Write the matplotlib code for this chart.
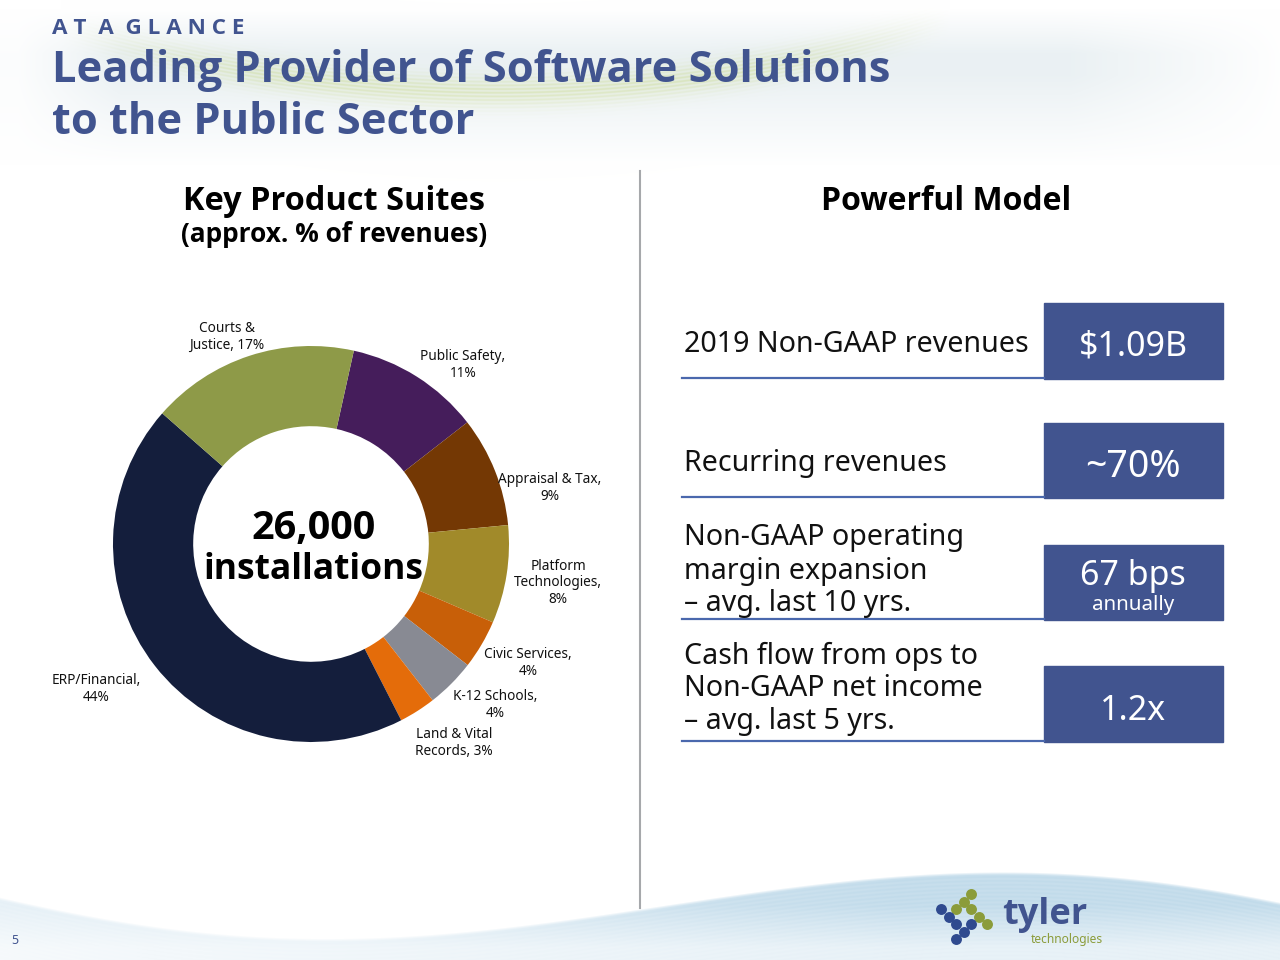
import numpy as np
import matplotlib
matplotlib.use('Agg')
import matplotlib.pyplot as plt

W, H = 1280, 960
BLUE = '#41548f'
FONT = ['Noto Sans', 'DejaVu Sans']
BOLD = ['Open Sans', 'DejaVu Sans']

# donut data, clockwise from the Public Safety wedge
suites = ['Public Safety', 'Appraisal & Tax', 'Platform Technologies', 'Civic Services',
          'K-12 Schools', 'Land & Vital Records', 'ERP/Financial', 'Courts & Justice']
shares = [11, 9, 8, 4, 4, 3, 44, 17]
colors = ['#451d5b', '#743804', '#a18a2a', '#c85f08', '#888a93', '#e46c0a', '#141e3c', '#8e9a48']
label_text = ['Public Safety,\n11%', 'Appraisal & Tax,\n9%', 'Platform\nTechnologies,\n8%', 'Civic Services,\n4%',
              'K-12 Schools,\n4%', 'Land & Vital\nRecords, 3%', 'ERP/Financial,\n44%', 'Courts &\nJustice, 17%']
label_x = [463, 550, 558, 528, 495, 454, 96, 227]
label_y = [365, 488, 583, 663, 705, 743, 689, 337]

# right hand panel
model_lines = ['2019 Non-GAAP revenues', 'Recurring revenues',
               'Non-GAAP operating', 'margin expansion', '– avg. last 10 yrs.',
               'Cash flow from ops to', 'Non-GAAP net income', '– avg. last 5 yrs.']
line_y = [344, 463, 538, 571, 604, 656, 689, 722]
model_values = ['$1.09B', '~70%', '67 bps', '1.2x']
value_sizes = [24.5, 27, 24.5, 24.5]
value_y = [347, 467, 576, 711]
box_top = [303, 423, 545, 666]
box_bottom = [379, 498, 620, 742]

fig = plt.figure(figsize=(12.8, 9.6), dpi=100)

# background washes top and bottom
bg = fig.add_axes([0, 0, 1, 1], zorder=0)
xx, yy = np.meshgrid(np.arange(W), np.arange(H))
img = np.ones((H, W, 3))


def wash(amount, color):
    for c in range(3):
        img[:, :, c] -= amount * (1 - color[c])


top = np.clip((yy - 8) / 45, 0, 1) * np.clip((165 - yy) / 90, 0, 1)
top = top * np.clip(xx / 120, 0.15, 1) * np.clip((1290 - xx) / 220, 0, 1)
wash(top, (0.92, 0.945, 0.955))

# pale green streak band behind the title
streak_fit = np.polyfit([100, 250, 460, 690, 900], [40, 70, 92, 78, 35], 3)
d = yy - np.polyval(streak_fit, xx)
fade = np.clip((xx - 60) / 200, 0, 1) * np.clip((950 - xx) / 200, 0, 1)
wash(np.exp(-(d / 15.0) ** 2) * fade * (0.72 + 0.28 * np.sin(d * 1.7)), (0.93, 0.95, 0.80))

# footer swoosh
edge_fit = np.polyfit([0, 100, 286, 450, 640, 800, 996, 1150, 1280],
                      [897, 917, 938, 932, 909, 885, 872, 880, 902], 5)
edge = np.polyval(edge_fit, xx)
below = yy - edge
foot = np.clip(below / 3, 0, 1) * (0.4 + 0.6 * np.clip(xx / 900, 0, 1))
foot = foot * np.clip(1 - (yy - 905) / 70, 0.4, 1)
foot = foot * (0.95 + 0.05 * np.sin(below * 1.6))
wash(foot, (0.76, 0.86, 0.92))

bg.imshow(img, extent=(0, W, H, 0), aspect='auto')
bg.axis('off')

# donut
cx, cy, r = 311, 544, 198
pie_ax = fig.add_axes([(cx - r) / W, 1 - (cy + r) / H, 2 * r / W, 2 * r / H], zorder=1)
pie_ax.pie(shares, colors=colors, startangle=77.5, counterclock=False, radius=1,
           wedgeprops=dict(width=0.405))
pie_ax.set_xlim(-1, 1)
pie_ax.set_ylim(-1, 1)

# everything else goes on a top layer in picture pixels
ax = fig.add_axes([0, 0, 1, 1], zorder=2, facecolor='none')
ax.set_xlim(0, W)
ax.set_ylim(H, 0)
ax.axis('off')


def txt(x, y, s, size, color='black', ha='center', **kw):
    return ax.text(x, y, s, fontsize=size, color=color, ha=ha, va='center', family=FONT, **kw)


def bold(x, y, s, size, color='black', ha='center'):
    return ax.text(x, y, s, fontsize=size, color=color, ha=ha, va='center', family=BOLD, fontweight='bold')


bold(52, 28, 'A T  A  G L A N C E', 16.2, BLUE, ha='left')
bold(52, 70, 'Leading Provider of Software Solutions', 31.2, BLUE, ha='left')
bold(52, 122, 'to the Public Sector', 31.2, BLUE, ha='left')

bold(334, 201, 'Key Product Suites', 23.4)
bold(334, 235, '(approx. % of revenues)', 18.9)
bold(946, 201, 'Powerful Model', 23)

ax.plot([640, 640], [171, 908], color='#a6a8ab', lw=1.5)

for i in range(len(suites)):
    txt(label_x[i], label_y[i], label_text[i], 9.8, color='#111111', linespacing=1.1)

bold(314, 528, '26,000', 28.5)
bold(314, 570, 'installations', 25.5)

# model rows
for i in range(len(model_values)):
    ax.add_patch(plt.Rectangle((1044, box_top[i]), 179, box_bottom[i] - box_top[i], color=BLUE))
    ax.plot([682, 1044], [box_bottom[i] - 1] * 2, color='#4a68ad', lw=1.6)
    txt(1133, value_y[i], model_values[i], value_sizes[i], color='white')
for i in range(len(model_lines)):
    txt(684, line_y[i], model_lines[i], 20.6, color='#111111', ha='left')
txt(1133, 605, 'annually', 14.8, color='white')

# logo
green_x = [971, 964, 956, 971, 979, 987]
green_y = [894, 902, 909, 909, 917, 924]
blue_x = [941, 949, 956, 971, 964, 956]
blue_y = [909, 917, 924, 924, 932, 939]
ax.scatter(green_x, green_y, s=62, color='#8b9c3a', linewidths=0)
ax.scatter(blue_x, blue_y, s=62, color='#2f4a8f', linewidths=0)
bold(1002, 915, 'tyler', 26, BLUE, ha='left')
txt(1031, 940, 'technologies', 8.6, '#8b9c3a', ha='left')

txt(15, 940, '5', 9, BLUE)

fig.savefig('out.png', dpi=100)
